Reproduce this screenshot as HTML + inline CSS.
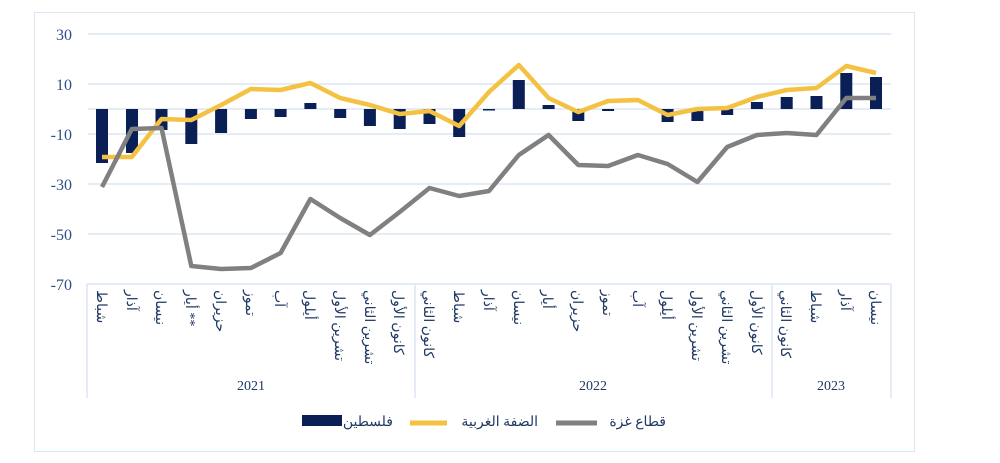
<!DOCTYPE html>
<html><head><meta charset="utf-8"><style>
html,body{margin:0;padding:0;background:#fff;width:1000px;height:463px;overflow:hidden}
svg{display:block}
.t{font-family:"Liberation Serif","Noto Sans CJK SC",serif;fill:#2f4f8a}
.c{font-family:"Liberation Serif","Noto Sans CJK SC",serif;fill:#1f3864;font-size:14px}
</style></head><body>
<svg width="1000" height="463" viewBox="0 0 1000 463" xmlns="http://www.w3.org/2000/svg">
<rect x="34.5" y="12.5" width="880" height="439" fill="#fff" stroke="#dce6f2" stroke-width="1"/>
<g stroke="#dce6f2" stroke-width="1.5">
<line x1="88" y1="34" x2="891" y2="34"/><line x1="88" y1="84" x2="891" y2="84"/>
<line x1="88" y1="109" x2="891" y2="109"/>
<line x1="88" y1="134" x2="891" y2="134"/><line x1="88" y1="184" x2="891" y2="184"/>
<line x1="88" y1="234" x2="891" y2="234"/>
<line x1="87" y1="284" x2="891" y2="284"/>
<line x1="87" y1="284" x2="87" y2="398"/><line x1="415" y1="284" x2="415" y2="398"/>
<line x1="772" y1="284" x2="772" y2="398"/><line x1="891" y1="284" x2="891" y2="398"/>
</g>
<g class="t" font-size="16" text-anchor="end">
<text x="72" y="40">30</text><text x="72" y="90">10</text><text x="72" y="140">-10</text>
<text x="72" y="190">-30</text><text x="72" y="240">-50</text><text x="72" y="290">-70</text>
</g>
<g fill="#0a1f56">
<rect x="96" y="109" width="12" height="54"/><rect x="126" y="109" width="12" height="44"/>
<rect x="155.5" y="109" width="12" height="21"/><rect x="185.3" y="109" width="12" height="35"/>
<rect x="215.1" y="109" width="12" height="24"/><rect x="244.9" y="109" width="12" height="10"/>
<rect x="274.6" y="109" width="12" height="8"/><rect x="304.4" y="103" width="12" height="6"/>
<rect x="334.2" y="109" width="12" height="9"/><rect x="363.9" y="109" width="12" height="17"/>
<rect x="393.7" y="109" width="12" height="20"/><rect x="423.5" y="109" width="12" height="15"/>
<rect x="453.2" y="109" width="12" height="28"/><rect x="483" y="109" width="12" height="1.5"/>
<rect x="512.8" y="80" width="12" height="29"/><rect x="542.6" y="105" width="12" height="4"/>
<rect x="572.3" y="109" width="12" height="12"/><rect x="602.1" y="109" width="12" height="2"/>
<rect x="661.6" y="109" width="12" height="13"/><rect x="691.4" y="109" width="12" height="12"/>
<rect x="721.2" y="109" width="12" height="6"/><rect x="750.9" y="102" width="12" height="7"/>
<rect x="780.7" y="97" width="12" height="12"/><rect x="810.5" y="96" width="12" height="13"/>
<rect x="840.3" y="73" width="12" height="36"/><rect x="870" y="77" width="12" height="32"/>
</g>
<polyline fill="none" stroke="#f4c242" stroke-width="4.5" stroke-linejoin="round" points="102,157 131.8,157 161.5,119 191.3,120 221.1,105 250.9,89 280.6,90 310.4,83 340.2,98 369.9,105 399.7,114 429.5,111 459.2,126 489,92 518.8,65 548.6,98 578.3,112 608.1,101 637.9,100 667.6,115 697.4,109 727.2,108 756.9,97 786.7,90 816.5,88 846.3,66 876,73"/>
<polyline fill="none" stroke="#808080" stroke-width="4.5" stroke-linejoin="round" points="102,187 131.8,129 161.5,128 191.3,266 221.1,269 250.9,268 280.6,253 310.4,199 340.2,218 369.9,235 399.7,212 429.5,188 459.2,196 489,191 518.8,155 548.6,135 578.3,165 608.1,166 637.9,155 667.6,164 697.4,182 727.2,147 756.9,135 786.7,133 816.5,135 846.3,98 876,98"/>
<g class="c">
<text transform="translate(97,290) rotate(90)">شباط</text>
<text transform="translate(127,290) rotate(90)">آذار</text>
<text transform="translate(156,290) rotate(90)">نيسان</text>
<text transform="translate(186,290) rotate(90)">أيار **</text>
<text transform="translate(216,290) rotate(90)">حزيران</text>
<text transform="translate(246,290) rotate(90)">تموز</text>
<text transform="translate(275,290) rotate(90)">آب</text>
<text transform="translate(305,290) rotate(90)">أيلول</text>
<text transform="translate(335,290) rotate(90)">تشرين الأول</text>
<text transform="translate(365,290) rotate(90)">تشرين الثاني</text>
<text transform="translate(394,290) rotate(90)">كانون الأول</text>
<text transform="translate(424,290) rotate(90)">كانون الثاني</text>
<text transform="translate(454,290) rotate(90)">شباط</text>
<text transform="translate(484,290) rotate(90)">آذار</text>
<text transform="translate(514,290) rotate(90)">نيسان</text>
<text transform="translate(543,290) rotate(90)">أيار</text>
<text transform="translate(573,290) rotate(90)">حزيران</text>
<text transform="translate(603,290) rotate(90)">تموز</text>
<text transform="translate(633,290) rotate(90)">آب</text>
<text transform="translate(662,290) rotate(90)">أيلول</text>
<text transform="translate(692,290) rotate(90)">تشرين الأول</text>
<text transform="translate(722,290) rotate(90)">تشرين الثاني</text>
<text transform="translate(752,290) rotate(90)">كانون الأول</text>
<text transform="translate(781,290) rotate(90)">كانون الثاني</text>
<text transform="translate(811,290) rotate(90)">شباط</text>
<text transform="translate(841,290) rotate(90)">آذار</text>
<text transform="translate(871,290) rotate(90)">نيسان</text>
</g>
<g class="c" font-size="18" text-anchor="middle">
<text x="251" y="390">2021</text><text x="593" y="390">2022</text><text x="831" y="390">2023</text>
</g>
<rect x="302" y="415" width="40" height="11" fill="#0a1f56"/>
<text class="c" x="393" y="426" text-anchor="end" font-size="15">فلسطين</text>
<line x1="410" y1="423" x2="447" y2="423" stroke="#f4c242" stroke-width="5"/>
<text class="c" x="538" y="426" text-anchor="end" font-size="15">الضفة الغربية</text>
<line x1="556" y1="423" x2="597" y2="423" stroke="#808080" stroke-width="5"/>
<text class="c" x="666" y="426" text-anchor="end" font-size="15">قطاع غزة</text>
</svg>
</body></html>
